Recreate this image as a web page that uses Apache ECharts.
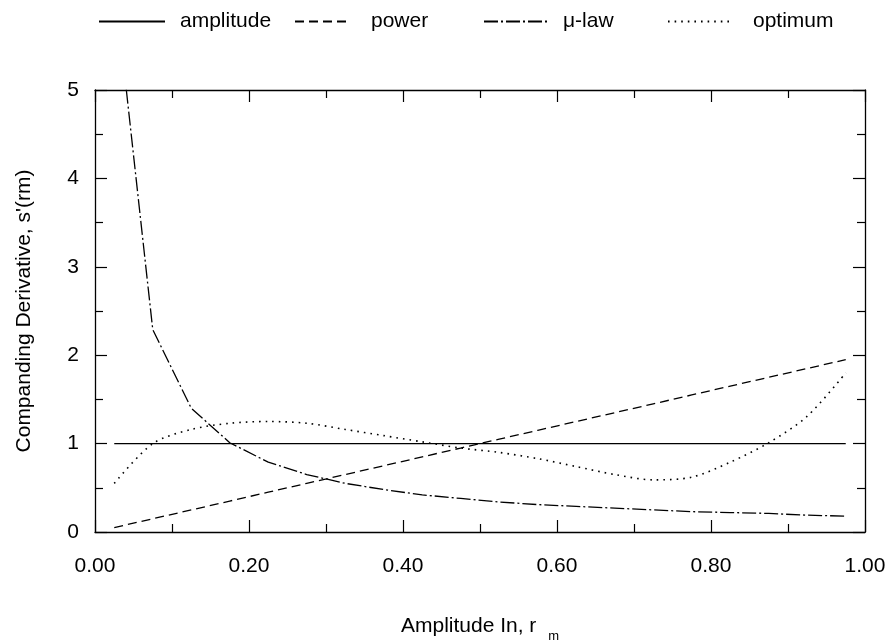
<!DOCTYPE html>
<html>
<head>
<meta charset="utf-8">
<script src="https://cdn.jsdelivr.net/npm/echarts@6/dist/echarts.min.js"></script>
<style>html,body{margin:0;padding:0;background:#fff}#c{width:890px;height:644px}</style>
</head>
<body>
<div id="c"></div>
<script>
const rm = [0.025,0.075,0.125,0.175,0.225,0.275,0.325,0.375,0.425,0.475,0.525,0.575,0.625,0.675,0.725,0.775,0.825,0.875,0.925,0.975];
const amplitude = [1,1,1,1,1,1,1,1,1,1,1,1,1,1,1,1,1,1,1,1];
const power = [0.05,0.15,0.25,0.35,0.45,0.55,0.65,0.75,0.85,0.95,1.05,1.15,1.25,1.35,1.45,1.55,1.65,1.75,1.85,1.95];
const muLaw = [6.24,2.29,1.40,1.01,0.79,0.65,0.55,0.48,0.42,0.38,0.34,0.31,0.29,0.27,0.25,0.23,0.22,0.21,0.19,0.18];
const optimum = [0.55,1.00,1.16,1.23,1.25,1.23,1.16,1.09,1.02,0.95,0.90,0.83,0.74,0.65,0.59,0.62,0.79,1.01,1.31,1.80];
const xTicks = [0,0.2,0.4,0.6,0.8,1.0];
const yTicks = [0,1,2,3,4,5];
const names = ['amplitude','power','\u03bc-law','optimum'];

const FONT = "'Liberation Sans', Arial, sans-serif";
const pairs = ys => rm.map((x,i)=>[x, ys[i]]);
const styles = [
  {type:'solid', width:1.2},
  {type:[9,5], width:1.3},
  {type:[14,3,2,3], width:1.3},
  {type:[1.6,5], width:1.6}
];
const seriesData = [amplitude, power, muLaw, optimum];

function axisCommon() {
  return {
    axisLine:{show:true, onZero:false, lineStyle:{color:'#000', width:1.3}},
    axisTick:{show:true, inside:true, length:12, lineStyle:{color:'#000', width:1.2}},
    minorTick:{show:true, splitNumber:2, length:8, lineStyle:{color:'#000', width:1.2}},
    splitLine:{show:false}
  };
}

const legendPos = [
  {left:93, w:66, pad:10},
  {left:289, w:56, pad:15},
  {left:478, w:66, pad:8},
  {left:662, w:66, pad:14}
];

const option = {
  backgroundColor:'#fff',
  animation:false,
  textStyle:{fontFamily:FONT},
  grid:{left:95, right:25, top:90, bottom:112, outerBoundsMode:'none', containLabel:false},
  legend: legendPos.map((p,i)=>({
    data:[names[i]], left:p.left, top:6, itemWidth:p.w, itemHeight:14,
    itemStyle:{opacity:0},
    textStyle:{fontSize:21, color:'#000', fontFamily:FONT, padding:[0,0,0,p.pad]}
  })),
  xAxis:[
    Object.assign(axisCommon(), {
      type:'value', min:0, max:1, interval:0.2, position:'bottom',
      name:'Amplitude In, r {m|m}', nameLocation:'middle', nameGap:84,
      nameTextStyle:{fontSize:21, color:'#000', fontFamily:FONT,
        rich:{m:{fontSize:13, color:'#000', fontFamily:FONT, verticalAlign:'bottom', padding:[0,0,-6,6]}}},
      axisLabel:{fontSize:21, color:'#000', margin:24, fontFamily:FONT,
        formatter:v=>xTicks.indexOf(+v.toFixed(2))>=0 ? v.toFixed(2) : ''}
    }),
    Object.assign(axisCommon(), {
      type:'value', min:0, max:1, interval:0.2, position:'top', axisLabel:{show:false}
    })
  ],
  yAxis:[
    Object.assign(axisCommon(), {
      type:'value', min:0, max:5, interval:1, position:'left',
      name:"Companding Derivative, s'(rm)", nameLocation:'middle', nameGap:60,
      nameTextStyle:{fontSize:21, color:'#000', fontFamily:FONT},
      axisLabel:{fontSize:21, color:'#000', margin:16, fontFamily:FONT,
        formatter:v=>yTicks.indexOf(v)>=0 ? String(v) : ''}
    }),
    Object.assign(axisCommon(), {
      type:'value', min:0, max:5, interval:1, position:'right', axisLabel:{show:false}
    })
  ],
  series: names.map((n,i)=>({
    name:n, type:'line', data:pairs(seriesData[i]), symbol:'none', clip:true,
    smooth: i===3 ? 0.3 : false,
    lineStyle:Object.assign({color:'#000'}, styles[i]),
    itemStyle:{color:'#000'}
  }))
};
echarts.init(document.getElementById('c')).setOption(option);
</script>
</body>
</html>
